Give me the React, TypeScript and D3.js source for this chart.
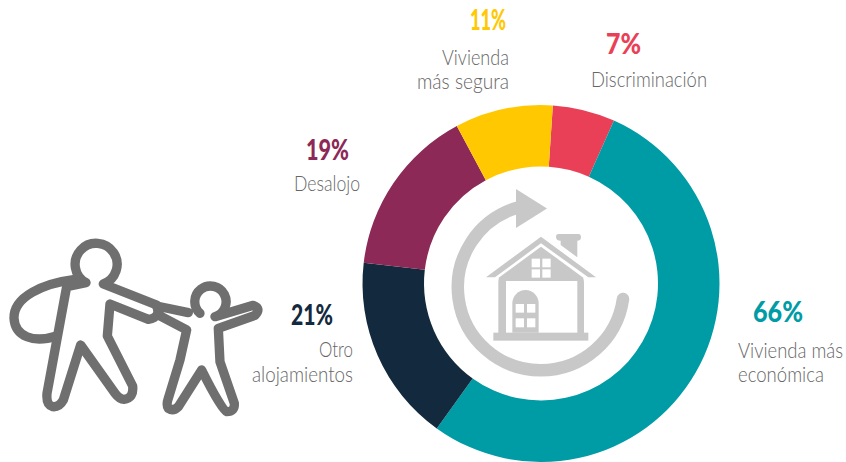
import React from "react";
import * as d3 from "d3";

const categories = [
  "Discriminación",
  "Vivienda más económica",
  "Otro alojamientos",
  "Desalojo",
  "Vivienda más segura",
];
const percents = [7, 66, 21, 19, 11];
const colors = ["#e94057", "#009ca6", "#132a3e", "#8c2957", "#ffc800"];
const pctLabels = percents.map((d) => `${d}%`);

const width = 846;
const height = 462;
const cx = 541;
const cy = 283.5;
const outerR = 178.5;
const innerR = 117;
const startDeg = 3.8;

const GRAY = "#666666";
const ICON = "#c8c8c8";
const FONT = "Lato, 'Open Sans', sans-serif";

// [x, y, textLength] for the percent, then one entry per label line
const pctPos: [number, number, number][] = [
  [606, 54, 35],
  [753, 322, 50],
  [291, 325, 42],
  [306, 160, 43],
  [470, 30, 36],
];
const nameLines: [string, number, number, number][][] = [
  [["Discriminación", 591, 87, 116]],
  [
    ["Vivienda más", 738, 358, 105],
    ["económica", 738, 382, 86],
  ],
  [
    ["Otro", 319, 357, 34],
    ["alojamientos", 252, 382, 101],
  ],
  [["Desalojo", 294, 191, 66]],
  [
    ["Vivienda", 442, 65, 67],
    ["más segura", 417, 89, 92],
  ],
];

// reference outline traced at 3x, so scale back down
const adult =
  "M258 158 A63 63 0 1 1 310 162 L470 225 Q485 262 445 268 L330 222 L322 318 L398 468 Q402 505 372 508 Q358 508 345 490 L242 345 L190 510 Q178 532 158 530 Q138 525 141 490 L200 170 Z";
const bag = "M225 148 C130 160 40 200 42 265 C45 320 100 340 170 318";
const child =
  "M600 250 A47 47 0 1 1 645 260 L760 226 Q785 235 765 256 L655 295 L660 395 L703 520 Q705 545 680 545 Q665 540 605 420 L535 530 Q520 545 505 535 Q498 525 505 505 L540 390 L560 300 L480 258 L470 228 L565 248";

function House() {
  return (
    <g transform="translate(440 180) scale(0.3333)" fill={ICON}>
      <path d="M138 292 L303 170 L468 292 L445 292 L303 190 L165 292 Z" />
      <path d="M178 292 L303 200 L428 292 Q432 296 432 310 L432 460 L175 460 L175 310 Q175 296 178 292 Z" />
      <rect x={198} y={303} width={214} height={156} fill="#fff" />
      <rect x={160} y={458} width={285} height={24} />
      <path d="M217 458 L217 370 A39.5 40 0 0 1 296 370 L296 458 Z" />
      <path d="M348 170 Q348 162 356 162 L415 162 Q423 162 423 172 Q423 182 412 182 L412 232 L362 195 L362 182 Q348 182 348 170 Z" />
      <g fill="#fff">
        <rect x={275} y={236} width={25} height={26} />
        <rect x={307} y={236} width={25} height={26} />
        <rect x={275} y={268} width={25} height={25} />
        <rect x={307} y={268} width={25} height={25} />
        <rect x={227} y={372} width={25} height={26} />
        <rect x={261} y={372} width={25} height={26} />
        <rect x={227} y={415} width={25} height={27} />
        <rect x={261} y={415} width={25} height={27} />
      </g>
    </g>
  );
}

export default function App() {
  const pie = d3
    .pie<number>()
    .sort(null)
    .startAngle((startDeg * Math.PI) / 180)
    .endAngle(((startDeg + 360) * Math.PI) / 180);
  const arc = d3.arc<d3.PieArcDatum<number>>().innerRadius(innerR).outerRadius(outerR);
  const slices = pie(percents);

  return (
    <svg
      width={width}
      height={height}
      style={{ position: "absolute", left: 0, top: 0 }}
      fontFamily={FONT}
    >
      <g transform={`translate(${cx},${cy})`}>
        {slices.map((s, i) => (
          <path key={categories[i]} d={arc(s) as string} fill={colors[i]} />
        ))}
      </g>

      {/* circular arrow */}
      <path d="M623 299 A83 83 0 1 1 518 207.5" fill="none" stroke={ICON} strokeWidth={12.5} strokeLinecap="round" />
      <path d="M516 189 L547 208.5 L516 228 Z" fill={ICON} />
      <House />

      {/* people icon */}
      <g
        transform="translate(0 230) scale(0.3333)"
        fill="none"
        stroke="#6f6f6f"
        strokeWidth={28}
        strokeLinejoin="round"
        strokeLinecap="round"
      >
        <path d={bag} />
        <path d={adult} />
        <path d={child} />
      </g>

      {pctLabels.map((t, i) => (
        <text
          key={t}
          x={pctPos[i][0]}
          y={pctPos[i][1]}
          fontSize={29}
          fontWeight={900}
          fill={colors[i]}
          textLength={pctPos[i][2]}
          lengthAdjust="spacingAndGlyphs"
        >
          {t}
        </text>
      ))}
      {nameLines.flat().map(([t, x, y, len]) => (
        <text
          key={t}
          x={x}
          y={y}
          fontSize={21}
          fontWeight={300}
          fill={GRAY}
          textLength={len}
          lengthAdjust="spacingAndGlyphs"
        >
          {t}
        </text>
      ))}
    </svg>
  );
}
